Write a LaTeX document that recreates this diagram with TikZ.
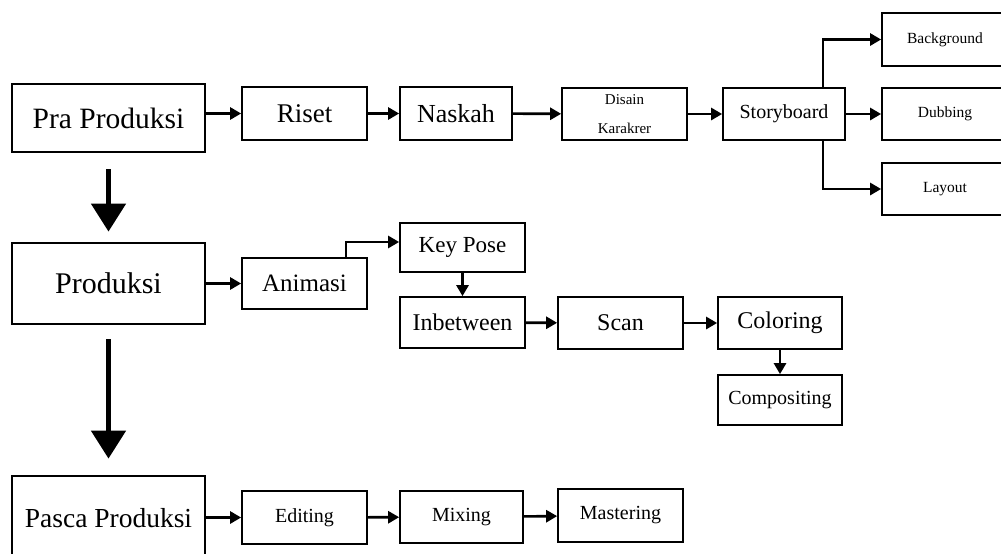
\documentclass[tikz,border=0pt]{standalone}
\usepackage{fontspec}
\setmainfont{Liberation Serif}
\usetikzlibrary{arrows.meta}

\begin{document}
\begin{tikzpicture}[x=1pt,y=-1pt,
    main/.style = {draw, line width=2.8pt, inner sep=0pt, minimum width=193pt},
    sub/.style = {draw, line width=1.7pt, inner sep=0pt, minimum width=125pt, minimum height=52pt},
    go/.style = {-{Triangle[length=11pt,width=12pt]}, line width=2.6pt},
    down/.style = {-{Triangle[length=28pt,width=34pt]}, line width=5pt}]
      \useasboundingbox (0,0) rectangle (1001,554);
      \clip (0,0) rectangle (1001,554);%right column runs off the page

      % stages
      \node[main, minimum height=68pt, font=\fontsize{29.5}{33}\selectfont](pra) at (108.5,118){Pra Produksi};
      \node[main, minimum height=81pt, font=\fontsize{30}{34}\selectfont](prod) at (108.5,283.5){Produksi};
      \node[main, minimum height=84pt, font=\fontsize{27.5}{31}\selectfont](pasca) at (108.5,518){Pasca Produksi};

      % pra produksi
      \node[sub, minimum height=53pt, font=\fontsize{27}{31}\selectfont](riset) at (304.5,113.5){Riset};
      \node[sub, minimum width=112pt, minimum height=53pt, font=\fontsize{26}{30}\selectfont](naskah) at (456,113.5){Naskah};
      \node[sub, align=center, font=\fontsize{15}{29}\selectfont](disain) at (624.5,114){Disain\\Karakrer};
      \node[sub, minimum width=122pt, font=\fontsize{20}{24}\selectfont](sb) at (784,114){Storyboard};
      \node[sub, minimum width=126pt, minimum height=53pt, font=\fontsize{15.5}{18}\selectfont](bg) at (945,39.5){Background};
      \node[sub, minimum width=126pt, font=\fontsize{15.5}{18}\selectfont](dub) at (945,114){Dubbing};
      \node[sub, minimum width=126pt, font=\fontsize{15.5}{18}\selectfont](lay) at (945,189){Layout};

      % produksi
      \node[sub, minimum height=51pt, font=\fontsize{25}{29}\selectfont](ani) at (304.5,283.5){Animasi};
      \node[sub, minimum height=49pt, font=\fontsize{23}{27}\selectfont](key) at (462.5,247.5){Key Pose};
      \node[sub, minimum height=51pt, font=\fontsize{24}{28}\selectfont](inb) at (462.5,322.5){Inbetween};
      \node[sub, font=\fontsize{24}{28}\selectfont](scan) at (620.5,323){Scan};
      \node[sub, minimum width=124pt, font=\fontsize{24}{28}\selectfont](col) at (780,323){Coloring};
      \node[sub, minimum width=124pt, minimum height=50pt, font=\fontsize{20}{24}\selectfont](comp) at (780,400){Compositing};

      % pasca produksi
      \node[sub, minimum height=53pt, font=\fontsize{20}{24}\selectfont](edit) at (304.5,517.5){Editing};
      \node[sub, minimum width=123pt, font=\fontsize{20}{24}\selectfont](mix) at (461.5,517){Mixing};
      \node[sub, minimum height=53pt, font=\fontsize{20}{24}\selectfont](mast) at (620.5,515.5){Mastering};

      \path[go]
      (pra.east |- riset.west) edge (riset.west)
      (riset) edge (naskah)
      (naskah) edge (disain)
      (disain) edge (sb)
      (sb) edge (dub)

      (prod) edge (ani)
      (key) edge (inb)
      (inb) edge (scan)
      (scan) edge (col)
      (col) edge (comp)

      (pasca.east |- edit.west) edge (edit.west)
      (edit) edge (mix)
      (mix) edge (mast)
      ;

      \draw[go] ([xshift=39pt]sb.north) |- (bg.west);
      \draw[go] ([xshift=39pt]sb.south) |- (lay.west);
      \draw[go] ([xshift=41.5pt]ani.north) |- ([yshift=5.5pt]key.west);

      \draw[down, shorten <=16pt, shorten >=10pt] (pra) -- (prod);
      \draw[down, shorten <=14pt, shorten >=16pt] (prod) -- (pasca.north);
    \end{tikzpicture}
\end{document}
